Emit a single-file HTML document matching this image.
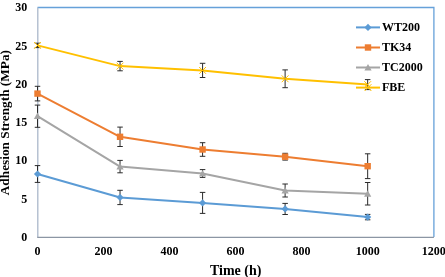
<!DOCTYPE html>
<html><head><meta charset="utf-8"><style>
html,body{margin:0;padding:0;background:#fff;width:445px;height:277px;overflow:hidden}
svg{display:block;will-change:transform}
text{font-family:"Liberation Serif",serif;font-weight:bold;fill:#000}
.tk{font-size:12px}
.lg{font-size:12px}
.tt{font-size:14px}
.yt{font-size:13.3px}
</style></head><body>
<svg width="445" height="277" viewBox="0 0 445 277">
<rect width="445" height="277" fill="#fff"/>
<path d="M37.5 7.5H433.9V237.0" fill="none" stroke="#66A1D9" stroke-width="1.3"/>
<path d="M37.8 7.5V237.3" fill="none" stroke="#ABB8CB" stroke-width="1.3"/>
<path d="M37.2 237.3H433.9" fill="none" stroke="#8C96A4" stroke-width="1.2"/>
<polyline points="37.50,174.00 120.04,197.45 202.58,202.90 285.12,208.95 367.67,217.10" fill="none" stroke="#5B9BD5" stroke-width="2.0" stroke-linejoin="round"/>
<path d="M37.50 165.60V182.40M34.75 165.60H40.25M34.75 182.40H40.25" stroke="#2B2B2B" stroke-width="1.0" fill="none"/>
<path d="M120.04 190.30V204.60M117.29 190.30H122.79M117.29 204.60H122.79" stroke="#2B2B2B" stroke-width="1.0" fill="none"/>
<path d="M202.58 192.40V213.40M199.83 192.40H205.33M199.83 213.40H205.33" stroke="#2B2B2B" stroke-width="1.0" fill="none"/>
<path d="M285.12 203.40V214.50M282.38 203.40H287.88M282.38 214.50H287.88" stroke="#2B2B2B" stroke-width="1.0" fill="none"/>
<path d="M367.67 214.40V219.80M364.92 214.40H370.42M364.92 219.80H370.42" stroke="#2B2B2B" stroke-width="1.0" fill="none"/>
<path d="M37.50 170.40L41.10 174.00L37.50 177.60L33.90 174.00Z" fill="#5B9BD5"/>
<path d="M120.04 193.85L123.64 197.45L120.04 201.05L116.44 197.45Z" fill="#5B9BD5"/>
<path d="M202.58 199.30L206.18 202.90L202.58 206.50L198.98 202.90Z" fill="#5B9BD5"/>
<path d="M285.12 205.35L288.73 208.95L285.12 212.55L281.52 208.95Z" fill="#5B9BD5"/>
<path d="M367.67 213.50L371.27 217.10L367.67 220.70L364.07 217.10Z" fill="#5B9BD5"/>
<polyline points="37.50,93.60 120.04,136.80 202.58,149.50 285.12,156.70 367.67,166.20" fill="none" stroke="#ED7D31" stroke-width="2.0" stroke-linejoin="round"/>
<path d="M37.50 86.30V100.90M34.75 86.30H40.25M34.75 100.90H40.25" stroke="#2B2B2B" stroke-width="1.0" fill="none"/>
<path d="M120.04 127.10V146.50M117.29 127.10H122.79M117.29 146.50H122.79" stroke="#2B2B2B" stroke-width="1.0" fill="none"/>
<path d="M202.58 142.70V156.30M199.83 142.70H205.33M199.83 156.30H205.33" stroke="#2B2B2B" stroke-width="1.0" fill="none"/>
<path d="M285.12 153.30V160.10M282.38 153.30H287.88M282.38 160.10H287.88" stroke="#2B2B2B" stroke-width="1.0" fill="none"/>
<path d="M367.67 153.80V178.60M364.92 153.80H370.42M364.92 178.60H370.42" stroke="#2B2B2B" stroke-width="1.0" fill="none"/>
<rect x="34.30" y="90.40" width="6.40" height="6.40" fill="#ED7D31"/>
<rect x="116.84" y="133.60" width="6.40" height="6.40" fill="#ED7D31"/>
<rect x="199.38" y="146.30" width="6.40" height="6.40" fill="#ED7D31"/>
<rect x="281.93" y="153.50" width="6.40" height="6.40" fill="#ED7D31"/>
<rect x="364.47" y="163.00" width="6.40" height="6.40" fill="#ED7D31"/>
<polyline points="37.50,116.20 120.04,166.60 202.58,173.50 285.12,190.50 367.67,193.75" fill="none" stroke="#A5A5A5" stroke-width="2.0" stroke-linejoin="round"/>
<path d="M37.50 105.10V127.30M34.75 105.10H40.25M34.75 127.30H40.25" stroke="#2B2B2B" stroke-width="1.0" fill="none"/>
<path d="M120.04 160.40V172.80M117.29 160.40H122.79M117.29 172.80H122.79" stroke="#2B2B2B" stroke-width="1.0" fill="none"/>
<path d="M202.58 169.60V177.40M199.83 169.60H205.33M199.83 177.40H205.33" stroke="#2B2B2B" stroke-width="1.0" fill="none"/>
<path d="M285.12 184.00V197.00M282.38 184.00H287.88M282.38 197.00H287.88" stroke="#2B2B2B" stroke-width="1.0" fill="none"/>
<path d="M367.67 182.50V205.00M364.92 182.50H370.42M364.92 205.00H370.42" stroke="#2B2B2B" stroke-width="1.0" fill="none"/>
<path d="M37.50 112.60L41.10 119.08L33.90 119.08Z" fill="#A5A5A5"/>
<path d="M120.04 163.00L123.64 169.48L116.44 169.48Z" fill="#A5A5A5"/>
<path d="M202.58 169.90L206.18 176.38L198.98 176.38Z" fill="#A5A5A5"/>
<path d="M285.12 186.90L288.73 193.38L281.52 193.38Z" fill="#A5A5A5"/>
<path d="M367.67 190.15L371.27 196.63L364.07 196.63Z" fill="#A5A5A5"/>
<polyline points="37.50,45.40 120.04,66.10 202.58,70.40 285.12,78.80 367.67,84.60" fill="none" stroke="#FFC000" stroke-width="2.0" stroke-linejoin="round"/>
<path d="M37.50 43.20V47.60M34.75 43.20H40.25M34.75 47.60H40.25" stroke="#2B2B2B" stroke-width="1.0" fill="none"/>
<path d="M120.04 61.40V70.80M117.29 61.40H122.79M117.29 70.80H122.79" stroke="#2B2B2B" stroke-width="1.0" fill="none"/>
<path d="M202.58 63.30V77.50M199.83 63.30H205.33M199.83 77.50H205.33" stroke="#2B2B2B" stroke-width="1.0" fill="none"/>
<path d="M285.12 69.90V87.70M282.38 69.90H287.88M282.38 87.70H287.88" stroke="#2B2B2B" stroke-width="1.0" fill="none"/>
<path d="M367.67 79.60V89.60M364.92 79.60H370.42M364.92 89.60H370.42" stroke="#2B2B2B" stroke-width="1.0" fill="none"/>
<path d="M34.10 42.00L40.90 48.80M40.90 42.00L34.10 48.80" stroke="#FFC000" stroke-width="1.0" fill="none"/>
<path d="M116.64 62.70L123.44 69.50M123.44 62.70L116.64 69.50" stroke="#FFC000" stroke-width="1.0" fill="none"/>
<path d="M199.18 67.00L205.98 73.80M205.98 67.00L199.18 73.80" stroke="#FFC000" stroke-width="1.0" fill="none"/>
<path d="M281.73 75.40L288.52 82.20M288.52 75.40L281.73 82.20" stroke="#FFC000" stroke-width="1.0" fill="none"/>
<path d="M364.27 81.20L371.07 88.00M371.07 81.20L364.27 88.00" stroke="#FFC000" stroke-width="1.0" fill="none"/>
<line x1="356" y1="27.4" x2="380" y2="27.4" stroke="#5B9BD5" stroke-width="2.0"/>
<path d="M368.00 23.80L371.60 27.40L368.00 31.00L364.40 27.40Z" fill="#5B9BD5"/>
<text x="382" y="30.5" class="lg">WT200</text>
<line x1="356" y1="47.5" x2="380" y2="47.5" stroke="#ED7D31" stroke-width="2.0"/>
<rect x="364.80" y="44.30" width="6.40" height="6.40" fill="#ED7D31"/>
<text x="382" y="50.6" class="lg">TK34</text>
<line x1="356" y1="67.5" x2="380" y2="67.5" stroke="#A5A5A5" stroke-width="2.0"/>
<path d="M368.00 63.90L371.60 70.38L364.40 70.38Z" fill="#A5A5A5"/>
<text x="382" y="70.6" class="lg">TC2000</text>
<line x1="356" y1="87.6" x2="380" y2="87.6" stroke="#FFC000" stroke-width="2.0"/>
<path d="M364.60 84.20L371.40 91.00M371.40 84.20L364.60 91.00" stroke="#FFC000" stroke-width="1.0" fill="none"/>
<text x="382" y="90.7" class="lg">FBE</text>
<text x="27.2" y="240.8" class="tk" text-anchor="end">0</text>
<text x="27.2" y="202.6" class="tk" text-anchor="end">5</text>
<text x="27.2" y="164.3" class="tk" text-anchor="end">10</text>
<text x="27.2" y="126.0" class="tk" text-anchor="end">15</text>
<text x="27.2" y="87.8" class="tk" text-anchor="end">20</text>
<text x="27.2" y="49.5" class="tk" text-anchor="end">25</text>
<text x="27.2" y="11.3" class="tk" text-anchor="end">30</text>
<text x="37.5" y="254.8" class="tk" text-anchor="middle">0</text>
<text x="103.5" y="254.8" class="tk" text-anchor="middle">200</text>
<text x="169.6" y="254.8" class="tk" text-anchor="middle">400</text>
<text x="235.6" y="254.8" class="tk" text-anchor="middle">600</text>
<text x="301.6" y="254.8" class="tk" text-anchor="middle">800</text>
<text x="367.7" y="254.8" class="tk" text-anchor="middle">1000</text>
<text x="433.7" y="254.8" class="tk" text-anchor="middle">1200</text>
<text x="235.7" y="274.9" class="tt" text-anchor="middle">Time (h)</text>
<text transform="translate(9.1 122.6) rotate(-90)" class="yt" text-anchor="middle">Adhesion Strength (MPa)</text>
</svg>
</body></html>
